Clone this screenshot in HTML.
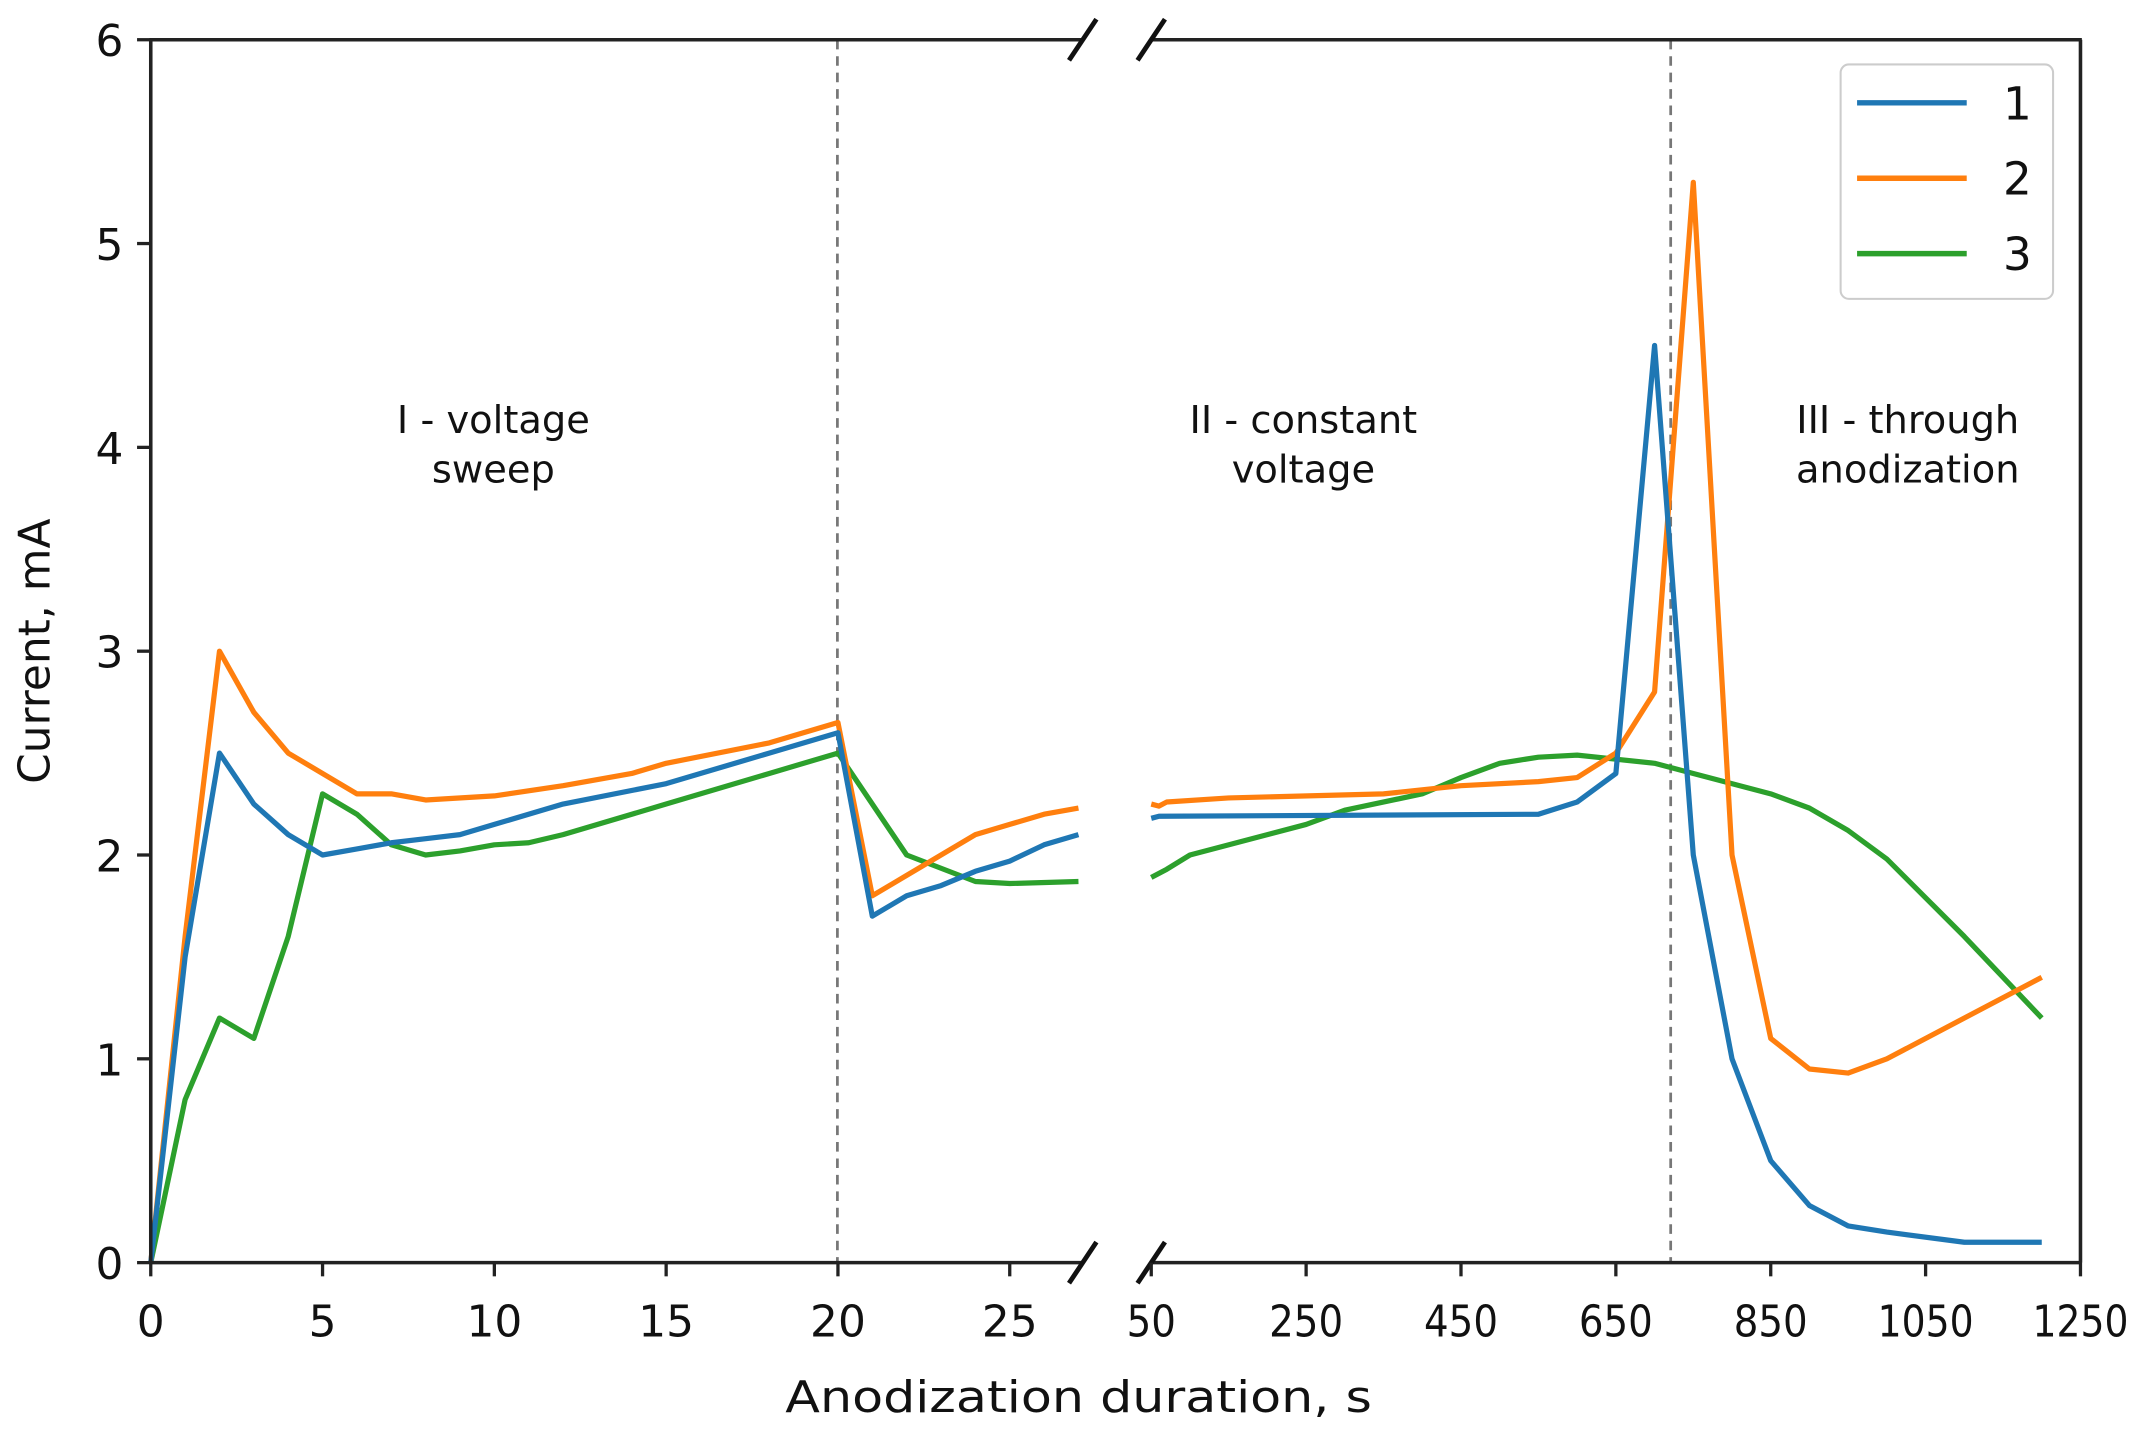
<!DOCTYPE html>
<html><head><meta charset="utf-8"><style>html,body{margin:0;padding:0;background:#fff}svg{display:block}</style></head>
<body>
<svg id="s" width="2149" height="1434" viewBox="0 0 1568 1046" preserveAspectRatio="none" xmlns="http://www.w3.org/2000/svg" font-family="DejaVu Sans, Liberation Sans, sans-serif">
<g id="g"></g>
</svg>
<script>
var NS="http://www.w3.org/2000/svg",g=document.getElementById('g');
function el(t,a,txt){var e=document.createElementNS(NS,t);for(var k in a)e.setAttribute(k,a[k]);if(txt!==undefined)e.textContent=txt;g.appendChild(e);return e;}
function Y(v){return 921-148.67*v;}
function XL(t){return 110+t*25.07;}
function XR(t){return 840+(t-50)*0.565;}
var C={b:'#1f77b4',o:'#ff7f0e',g:'#2ca02c'};
var L={
b:[[0,0],[1,1.5],[2,2.5],[3,2.25],[4,2.1],[5,2.0],[6,2.03],[7,2.06],[8,2.08],[9,2.1],[10,2.15],[12,2.25],[15,2.35],[18,2.5],[20,2.6],[21,1.7],[22,1.8],[23,1.85],[24,1.92],[25,1.97],[26,2.05],[27,2.1]],
o:[[0,0],[1,1.6],[2,3.0],[3,2.7],[4,2.5],[5,2.4],[6,2.3],[7,2.3],[8,2.27],[10,2.29],[12,2.34],[14,2.4],[15,2.45],[18,2.55],[20,2.65],[21,1.8],[22,1.9],[23,2.0],[24,2.1],[25,2.15],[26,2.2],[27,2.23]],
g:[[0,0],[1,0.8],[2,1.2],[3,1.1],[4,1.6],[5,2.3],[6,2.2],[7,2.05],[8,2.0],[9,2.02],[10,2.05],[11,2.06],[12,2.1],[15,2.25],[18,2.4],[20,2.5],[22,2.0],[24,1.87],[25,1.86],[27,1.87]]};
var R={
b:[[50,2.18],[60,2.19],[550,2.2],[600,2.26],[650,2.4],[700,4.5],[750,2.0],[800,1.0],[850,0.5],[900,0.28],[950,0.18],[1000,0.15],[1100,0.1],[1200,0.1]],
o:[[50,2.25],[60,2.24],[70,2.26],[150,2.28],[350,2.3],[450,2.34],[550,2.36],[600,2.38],[650,2.5],[700,2.8],[750,5.3],[800,2.0],[850,1.1],[900,0.95],[950,0.93],[1000,1.0],[1200,1.4]],
g:[[50,1.89],[70,1.93],[100,2.0],[200,2.1],[250,2.15],[300,2.22],[400,2.3],[450,2.38],[500,2.45],[550,2.48],[600,2.49],[650,2.47],[700,2.45],[750,2.4],[850,2.3],[900,2.23],[950,2.12],[1000,1.98],[1100,1.6],[1200,1.2]]};
el('line',{x1:611,y1:29,x2:611,y2:921,stroke:'#777','stroke-width':2,'stroke-dasharray':'7,5'});
el('line',{x1:1219,y1:29,x2:1219,y2:921,stroke:'#777','stroke-width':2,'stroke-dasharray':'7,5'});
['g','o','b'].forEach(function(k){
 el('polyline',{points:L[k].map(function(p){return XL(p[0])+','+Y(p[1])}).join(' '),fill:'none',stroke:C[k],'stroke-width':3.8,'stroke-linejoin':'round'});
 el('polyline',{points:R[k].map(function(p){return XR(p[0])+','+Y(p[1])}).join(' '),fill:'none',stroke:C[k],'stroke-width':3.8,'stroke-linejoin':'round'});
});
var ax={stroke:'#222','stroke-width':2.6};
el('line',Object.assign({x1:110,y1:29,x2:110,y2:921},ax));
el('line',Object.assign({x1:1518,y1:29,x2:1518,y2:921},ax));
el('line',Object.assign({x1:109,y1:29,x2:790,y2:29},ax));
el('line',Object.assign({x1:840,y1:29,x2:1519,y2:29},ax));
el('line',Object.assign({x1:109,y1:921,x2:790,y2:921},ax));
el('line',Object.assign({x1:840,y1:921,x2:1519,y2:921},ax));
[[790,29],[840,29],[790,921],[840,921]].forEach(function(p){el('line',{x1:p[0]-10,y1:p[1]+15,x2:p[0]+10,y2:p[1]-15,stroke:'#111','stroke-width':3.5});});
for(var v=0;v<=6;v++){el('line',{x1:100,y1:Y(v),x2:110,y2:Y(v),stroke:'#222','stroke-width':2.4});el('text',{x:90,y:Y(v)+12,'font-size':32,'text-anchor':'end',fill:'#111'},v);}
[0,5,10,15,20,25].forEach(function(t){var x=XL(t);el('line',{x1:x,y1:921,x2:x,y2:931,stroke:'#222','stroke-width':2.4});el('text',{x:x,y:975,'font-size':32,'text-anchor':'middle',fill:'#111'},t);});
[50,250,450,650,850,1050,1250].forEach(function(t){var x=XR(t);el('line',{x1:x,y1:921,x2:x,y2:931,stroke:'#222','stroke-width':2.4});el('text',{x:x,y:975,'font-size':32,'text-anchor':'middle',fill:'#111','textLength':t>=1000?70:(t>=100?54:36),'lengthAdjust':'spacingAndGlyphs'},t);});
el('text',{x:787,y:1030,'font-size':32,'text-anchor':'middle',fill:'#111','textLength':428,'lengthAdjust':'spacingAndGlyphs'},'Anodization duration, s');
el('text',{x:0,y:0,'font-size':32,'text-anchor':'middle',fill:'#111',transform:'translate(36,475) rotate(-90)'},'Current, mA');
function tx(x,y,s){el('text',{x:x,y:y,'font-size':28,'text-anchor':'middle',fill:'#111'},s);}
tx(360,316,'I - voltage');tx(360,352,'sweep');
tx(951,316,'II - constant');tx(951,352,'voltage');
tx(1392,316,'III - through');tx(1392,352,'anodization');
el('rect',{x:1343,y:47,width:155,height:171,rx:6,fill:'#fff',stroke:'#ccc','stroke-width':1.5});
[['b','1',75],['o','2',130],['g','3',185]].forEach(function(e){el('line',{x1:1355,y1:e[2],x2:1435,y2:e[2],stroke:C[e[0]],'stroke-width':4});el('text',{x:1472,y:e[2]+12,'font-size':33,'text-anchor':'middle',fill:'#111'},e[1]);});
</script>
</body></html>
